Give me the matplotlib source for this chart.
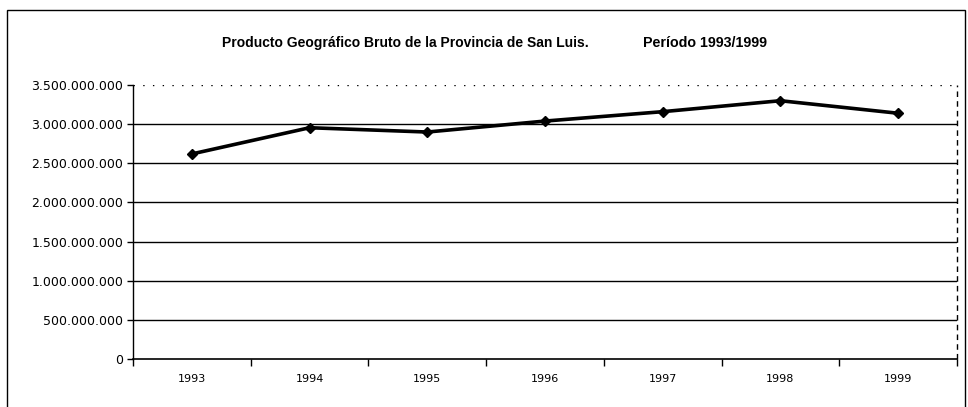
import numpy as np
import matplotlib.pyplot as plt
from matplotlib.ticker import FuncFormatter

years = ["1993", "1994", "1995", "1996", "1997", "1998", "1999"]
pgb = [2620000000, 2955000000, 2900000000, 3040000000, 3160000000, 3300000000, 3140000000]
yticks = [0, 500000000, 1000000000, 1500000000, 2000000000, 2500000000, 3000000000, 3500000000]

plt.rcParams['font.family'] = ['Liberation Sans', 'DejaVu Sans']

fig = plt.figure(figsize=(9.68, 4.07), dpi=100)
ax = fig.add_axes([0.1374, 0.1179, 0.8512, 0.6731])

x = np.arange(len(years))
ax.plot(x, pgb, color="black", lw=2.6, marker="D", ms=5.5, zorder=3)

ax.set_xlim(-0.5, len(years) - 0.5)
ax.set_ylim(0, 3500000000)
ax.set_yticks(yticks)
ax.yaxis.set_major_formatter(FuncFormatter(lambda v, p: f"{int(v):,}".replace(",", ".")))
ax.set_xticks(x)
ax.set_xticklabels(years, family="DejaVu Sans")
for lbl in ax.get_yticklabels():
    lbl.set_family("DejaVu Sans")
ax.set_xticks(np.arange(-0.5, len(years)), minor=True)
ax.tick_params(axis="x", which="major", length=0, pad=11, labelsize=8)
ax.tick_params(axis="x", which="minor", length=5, width=1, direction="out")
ax.tick_params(axis="y", length=4, width=1, labelsize=9, pad=3)

for v in yticks[1:-1]:
    ax.axhline(v, color="black", lw=1, zorder=1)
ax.axhline(yticks[-1], color="black", lw=1, ls=(0, (1, 6)), zorder=1)

for s in ["top", "right"]:
    ax.spines[s].set_visible(False)
ax.plot([1, 1], [0, 1], transform=ax.transAxes, color="black", lw=1, ls=(0, (4, 3)), clip_on=False)
ax.spines["left"].set_linewidth(1)
ax.spines["bottom"].set_linewidth(1.2)

fig.text(0.229, 0.895, "Producto Geográfico Bruto de la Provincia de San Luis.", fontsize=10, fontweight="bold", ha="left", va="center")
fig.text(0.664, 0.895, "Período 1993/1999", fontsize=10.3, fontweight="bold", ha="left", va="center")

# outer frame of the chart area
frame = plt.Rectangle((0.007, -0.02), 0.99, 0.995, transform=fig.transFigure, fill=False, lw=1, color="black")
fig.patches.append(frame)

fig.savefig("out.png", dpi=100)
